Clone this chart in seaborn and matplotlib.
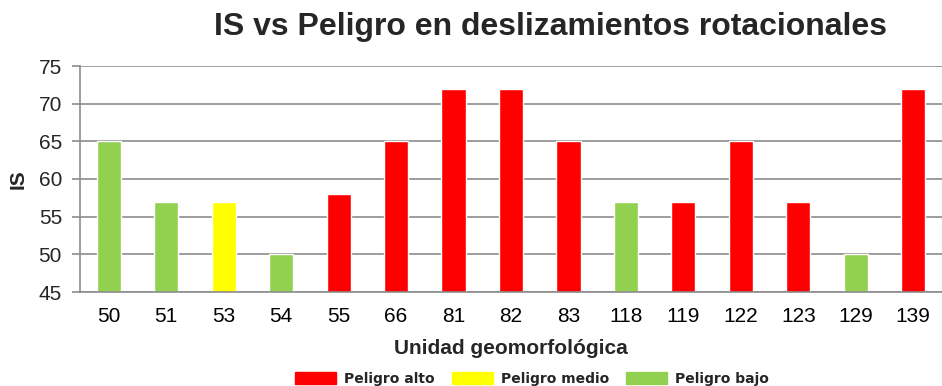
import matplotlib
matplotlib.use("Agg")
import matplotlib.pyplot as plt
import matplotlib.patches as mpatches
from matplotlib.ticker import FixedLocator, NullFormatter
import seaborn as sns
import pandas as pd

unidades = ["50", "51", "53", "54", "55", "66", "81", "82", "83",
            "118", "119", "122", "123", "129", "139"]
indice_is = [65, 57, 57, 50, 58, 65, 72, 72, 65, 57, 57, 65, 57, 50, 72]
peligro = ["Peligro bajo", "Peligro bajo", "Peligro medio", "Peligro bajo",
           "Peligro alto", "Peligro alto", "Peligro alto", "Peligro alto",
           "Peligro alto", "Peligro bajo", "Peligro alto", "Peligro alto",
           "Peligro alto", "Peligro bajo", "Peligro alto"]
niveles = ["Peligro alto", "Peligro medio", "Peligro bajo"]
colores = {"Peligro alto": "#ff0000", "Peligro medio": "#ffff00",
           "Peligro bajo": "#92d050"}

df = pd.DataFrame({"Unidad": unidades, "IS": indice_is, "Peligro": peligro})

sns.set_style("white")
plt.rcParams["font.family"] = ["Liberation Sans", "DejaVu Sans"]

fig = plt.figure(figsize=(9.42, 3.86), dpi=100)
ax = fig.add_axes([80 / 942, 1 - 292 / 386, 862 / 942, 226 / 386])

sns.barplot(data=df, x="Unidad", y="IS", hue="Peligro", palette=colores,
            hue_order=niveles, dodge=False, width=0.42, legend=False,
            order=unidades, ax=ax, saturation=1)

ax.set_ylim(45, 75)
ax.set_xlim(-0.5, len(unidades) - 0.5)
ax.set_yticks(range(45, 76, 5))
ax.yaxis.grid(True, color="#8c8c8c", linewidth=1.2)
ax.set_axisbelow(True)

for side in ("top", "right"):
    ax.spines[side].set_visible(False)
for side in ("left", "bottom"):
    ax.spines[side].set_color("#8c8c8c")
    ax.spines[side].set_linewidth(1.2)

ax.tick_params(axis="x", which="major", length=0, labelsize=15, pad=11,
               colors="black")
ax.xaxis.set_minor_locator(FixedLocator([i + 0.5 for i in range(-1, len(unidades))]))
ax.xaxis.set_minor_formatter(NullFormatter())
ax.tick_params(axis="x", which="minor", length=6, width=1.2, color="#8c8c8c",
               direction="out")
ax.tick_params(axis="y", length=6, width=1.2, color="#8c8c8c", labelsize=15,
               direction="out", pad=7, left=True)

ax.set_xlabel("Unidad geomorfológica", fontsize=15, fontweight="bold", labelpad=9)
ax.set_ylabel("IS", fontsize=15, fontweight="bold", labelpad=8)

fig.text(550 / 942, 1 - 27 / 386, "IS vs Peligro en deslizamientos rotacionales",
         ha="center", va="center", fontsize=23, fontweight="bold")

handles = [mpatches.Patch(color=colores[n], label=n) for n in niveles]
fig.legend(handles=handles, loc="center", ncol=3,
           bbox_to_anchor=(532 / 942, 1 - 379 / 386), frameon=False,
           prop={"family": "DejaVu Sans", "size": 10, "weight": "bold"},
           handlelength=2.95, handleheight=0.94, handletextpad=0.58,
           columnspacing=1.22, borderaxespad=0, borderpad=0)

fig.savefig("out.png", dpi=100)
